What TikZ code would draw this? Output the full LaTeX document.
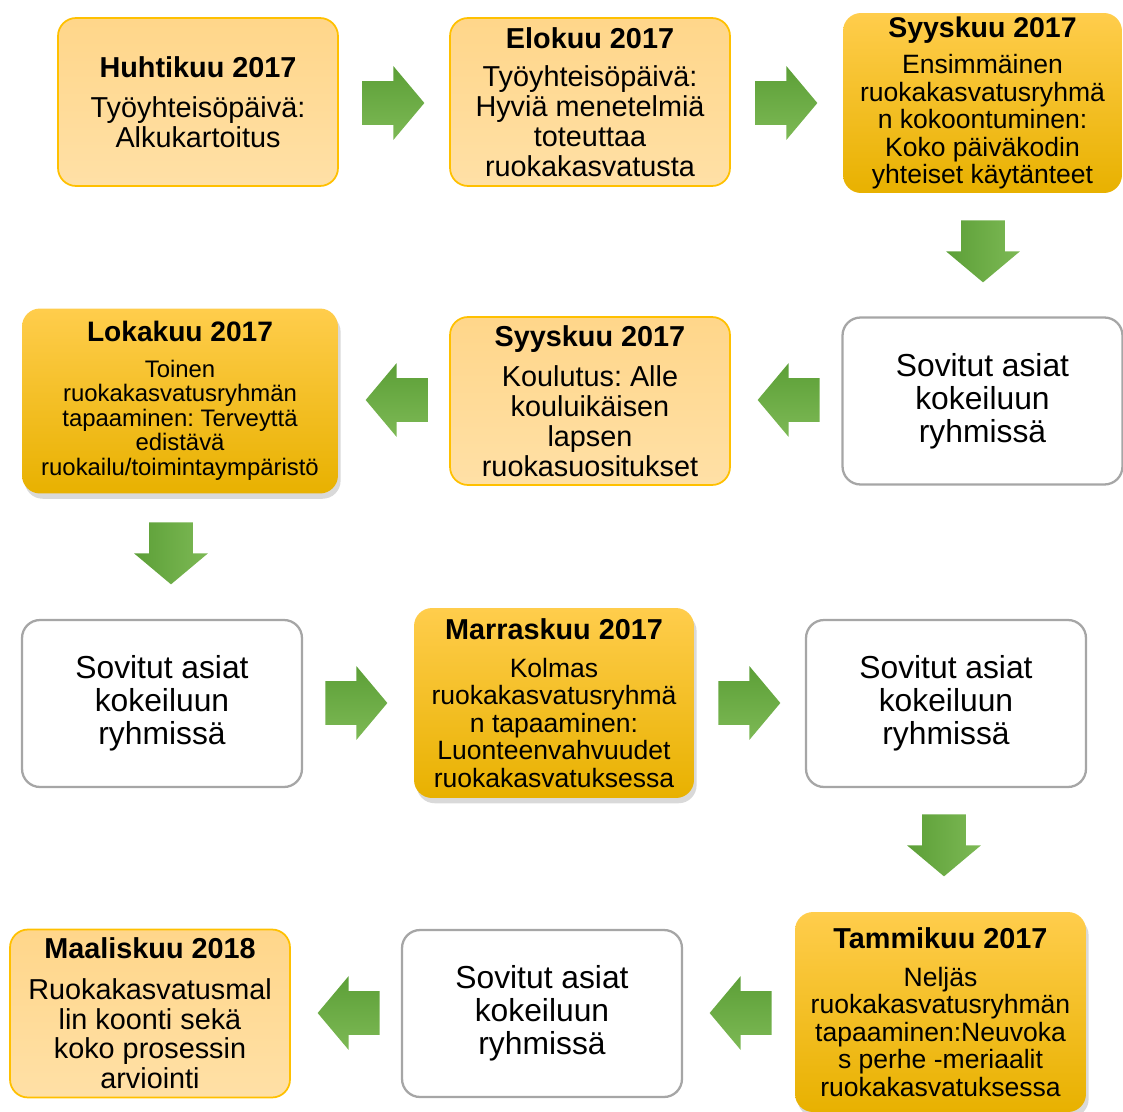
\documentclass[tikz,border=0pt]{standalone}
\usepackage{fontspec}
\setmainfont{Liberation Sans}
\usetikzlibrary{shapes.arrows,shadows}
\frenchspacing

\definecolor{lightTop}{HTML}{FFD68A}
\definecolor{lightBottom}{HTML}{FFE0A6}
\definecolor{goldTop}{HTML}{FFCD4C}
\definecolor{goldMid}{HTML}{FFC000}
\definecolor{goldBottom}{HTML}{E8B100}
\definecolor{boxEdge}{HTML}{FFC000}
\definecolor{whiteEdge}{HTML}{A6A6A6}
\definecolor{arrowDark}{HTML}{5C9F37}
\definecolor{arrowLight}{HTML}{7DB955}

\begin{document}
\begin{tikzpicture}
        [x=0.02cm, y=-0.02cm,
        lightBox/.style={rectangle, rounded corners=0.36cm, draw=boxEdge, line width=1pt, top color=lightTop, bottom color=lightBottom, minimum width=5.6cm, minimum height=3.36cm, align=center, inner sep=1pt, font=\fontsize{16.4}{17}\selectfont},
        goldFlat/.style={rectangle, rounded corners=0.36cm, top color=goldTop, middle color=goldMid, bottom color=goldBottom, align=center, inner sep=1pt, font=\fontsize{15.1}{15.6}\selectfont},
        goldBox/.style={goldFlat, drop shadow={shadow xshift=1.5pt, shadow yshift=-3pt, opacity=0.3}},
        whiteBox/.style={rectangle, rounded corners=0.36cm, draw=whiteEdge, line width=1.3pt, fill=white, minimum width=5.6cm, minimum height=3.34cm, align=center, font=\fontsize{18.1}{18.7}\selectfont},
        arrowR/.style={single arrow, anchor=tail, single arrow head extend=0.3cm, single arrow tip angle=100, minimum height=1.24cm, inner xsep=0pt, inner ysep=0.43cm, text height=0pt, text depth=0pt, top color=arrowDark, bottom color=arrowLight},
        arrowL/.style={arrowR, shape border rotate=180},
        arrowD/.style={arrowR, rotate=-90, left color=arrowDark, right color=arrowLight}]
        \useasboundingbox (0,0) rectangle (1123,1112);

        % first row
        \node[lightBox] (huhti) at (198,102) {\textbf{Huhtikuu 2017}\\[6pt]Työyhteisöpäivä:\\Alkukartoitus};
        \node[lightBox] (elo) at (590,102) {\textbf{Elokuu 2017}\\[5pt]Työyhteisöpäivä:\\Hyviä menetelmiä\\toteuttaa\\ruokakasvatusta};
        \node[goldFlat, minimum width=5.58cm, minimum height=3.6cm] (syysE) at (982.5,103) {{\fontsize{16.2}{17}\selectfont\bfseries Syyskuu 2017}\\[5pt]Ensimmäinen\\ruokakasvatusryhmä\\n kokoontuminen:\\Koko päiväkodin\\yhteiset käytänteet};

        % second row
        \node[whiteBox] (sov1) at (982.5,401) {Sovitut asiat\\kokeiluun\\ryhmissä};
        \node[lightBox] (syysK) at (590,401) {\textbf{Syyskuu 2017}\\[6pt]Koulutus: Alle\\kouluikäisen\\lapsen\\ruokasuositukset};
        \node[goldBox, minimum width=6.32cm, minimum height=3.7cm, font=\fontsize{13.6}{14}\selectfont] (loka) at (180,401) {{\fontsize{16}{17}\selectfont\bfseries Lokakuu 2017}\\[6pt]Toinen\\ruokakasvatusryhmän\\tapaaminen: Terveyttä\\edistävä\\ruokailu/toimintaympäristö};

        % third row
        \node[whiteBox] (sov2) at (162,703.5) {Sovitut asiat\\kokeiluun\\ryhmissä};
        \node[goldBox, minimum width=5.6cm, minimum height=3.8cm] (marras) at (554,703) {{\fontsize{16.4}{17}\selectfont\bfseries Marraskuu 2017}\\[6pt]Kolmas\\ruokakasvatusryhmä\\n tapaaminen:\\Luonteenvahvuudet\\ruokakasvatuksessa};
        \node[whiteBox] (sov3) at (946,703.5) {Sovitut asiat\\kokeiluun\\ryhmissä};

        % fourth row
        \node[goldBox, minimum width=5.82cm, minimum height=4cm] (tammi) at (940.5,1012) {{\fontsize{16.4}{17}\selectfont\bfseries Tammikuu 2017}\\[6pt]Neljäs\\ruokakasvatusryhmän\\tapaaminen:Neuvoka\\s perhe -meriaalit\\ruokakasvatuksessa};
        \node[whiteBox] (sov4) at (542,1013.5) {Sovitut asiat\\kokeiluun\\ryhmissä};
        \node[lightBox] (maalis) at (150,1013.5) {\textbf{Maaliskuu 2018}\\[6pt]Ruokakasvatusmal\\lin koonti sekä\\koko prosessin\\arviointi};

        % block arrows, placed by their tails
        \node[arrowR] (a1) at (362,103) {};
        \node[arrowR] (a2) at (755,103) {};
        \node[arrowD] (a3) at (983,220) {};
        \node[arrowL] (a4) at (820,400) {};
        \node[arrowL] (a5) at (428,400) {};
        \node[arrowD] (a6) at (171,522) {};
        \node[arrowR] (a7) at (325,703) {};
        \node[arrowR] (a8) at (718,703) {};
        \node[arrowD] (a9) at (944,814) {};
        \node[arrowL] (a10) at (772,1013) {};
        \node[arrowL] (a11) at (380,1013) {};
    
    \end{tikzpicture}
\end{document}
